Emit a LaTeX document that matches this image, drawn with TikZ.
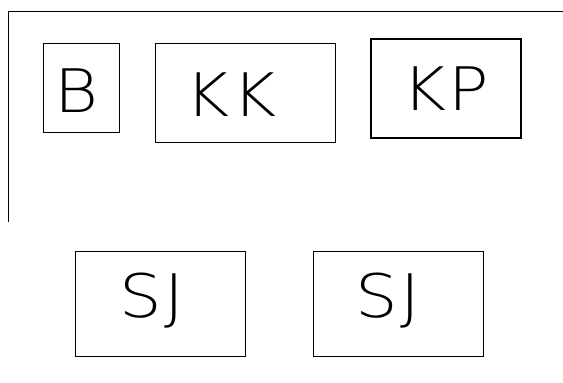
\documentclass[tikz,border=0pt]{standalone}
\usepackage{fontspec}
\newfontfamily\thinfont[FakeStretch=1.12, LetterSpace=4]{DejaVu Sans ExtraLight}
\usetikzlibrary{positioning}
\tikzset{box/.style={draw, rectangle, line width=.8pt, inner sep=0pt},
         lbl/.style={font=\thinfont\fontsize{60}{60}\selectfont, inner sep=0pt}}

\begin{document}
\begin{tikzpicture}[x=1pt,y=-1pt]
        \useasboundingbox (0,0) rectangle (563,383);
        % frame lines
        \coordinate (tr) at (563,11);
        \coordinate (tl) at (8,11);
        \coordinate (bl) at (8,222);
        \draw [line width=.8pt] (tr)--(tl)--(bl);

        \node (b) [box, minimum width=76pt, minimum height=89pt] at (81,87.5) {};
        \node (kk) [box, minimum width=180pt, minimum height=99pt] at (245,92.5) {};
        \node (kp) [box, line width=1.3pt, minimum width=150pt, minimum height=99pt] at (446,88.5) {};
        \node (sj1) [box, minimum width=170pt, minimum height=105pt] at (160,303.5) {};
        \node (sj2) [box, minimum width=170pt, minimum height=105pt] at (398,303.5) {};

        \node (tb) [lbl] at (77,90.5) {B};
        \node (tkk) [lbl] at (231,95) {KK};
        \node (tkp) [lbl] at (446,88.5) {KP};
        \node (tsj1) [lbl] at (152,300.5) {SJ};
        \node (tsj2) [lbl] at (388,300.5) {SJ};
\end{tikzpicture}
\end{document}
